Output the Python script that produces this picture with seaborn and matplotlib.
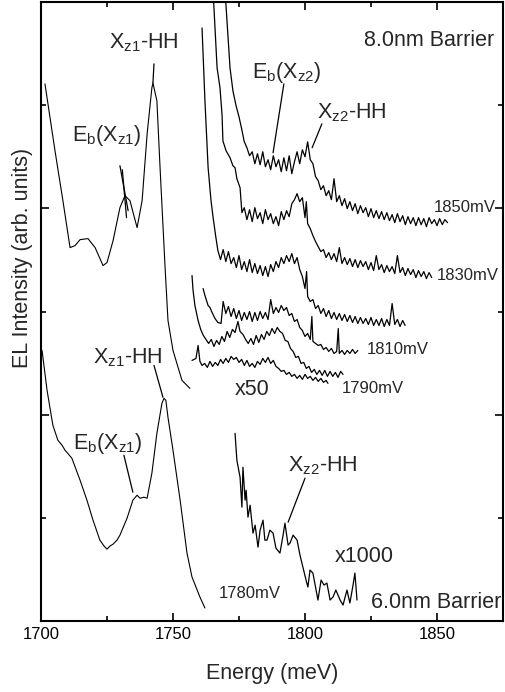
import matplotlib
matplotlib.use("Agg")
import matplotlib.pyplot as plt
import seaborn as sns
import pandas as pd
from matplotlib.ticker import MultipleLocator

# ---------------- data (Energy in meV, EL intensity in arb. units) ----------------
# 8.0 nm barrier, main spectrum
e_8_main = [1701.5, 1705.3, 1708.3, 1711.0, 1712.9, 1714.8, 1717.8, 1720.5, 1723.5, 1725.0,
            1727.3, 1729.9, 1731.8, 1733.7, 1736.4, 1738.3, 1740.2, 1742.0, 1742.4, 1743.9,
            1745.1, 1747.0, 1748.1, 1750.0, 1753.4, 1756.4]
i_8_main = [538, 471, 421, 374, 376, 382, 383, 374, 356, 359,
            381, 414, 426, 421, 394, 421, 488, 534, 539, 521,
            454, 354, 301, 271, 241, 233]

# 8.0 nm barrier, x50 spectra
e_1850 = [1769.5, 1771.6, 1772.7, 1773.9, 1775.0, 1776, 1777, 1778, 1779, 1780,
          1781, 1782, 1783, 1784, 1785, 1786, 1787, 1788, 1789, 1790,
          1791, 1792, 1793, 1794, 1795, 1796, 1797, 1798, 1799, 1800,
          1801, 1802, 1803, 1804, 1805, 1806, 1807, 1808, 1809, 1810,
          1811, 1812, 1813, 1814, 1815, 1816, 1817, 1818, 1819, 1820,
          1821, 1822, 1823, 1824, 1825, 1826, 1827, 1828, 1829, 1830,
          1831, 1832, 1833, 1834, 1835, 1836, 1837, 1838, 1839, 1840,
          1841, 1842, 1843, 1844, 1845, 1846, 1847, 1848, 1849, 1850,
          1851, 1852, 1853, 1854]
i_1850 = [640, 554, 531, 516, 505, 493, 480, 474, 466, 470,
          458, 468, 457, 470, 455, 462, 452, 466, 455, 462,
          450, 464, 451, 466, 448, 460, 470, 458, 472, 465,
          480, 462, 458, 445, 441, 432, 436, 426, 431, 422,
          443, 420, 426, 416, 423, 413, 420, 411, 418, 408,
          416, 409, 414, 405, 413, 404, 411, 403, 410, 402,
          409, 401, 407, 399, 408, 400, 406, 397, 405, 398,
          404, 396, 404, 397, 403, 395, 404, 398, 402, 396,
          403, 397, 402, 399]

e_1830 = [1765.0, 1766.7, 1767.8, 1768.6, 1768.9, 1770.1, 1771.6, 1772.7, 1773.5, 1774.2,
          1775.4, 1776.1, 1777, 1778, 1779, 1780, 1781, 1782, 1783, 1784,
          1785, 1786, 1787, 1788, 1789, 1790, 1791, 1792, 1793, 1794,
          1795, 1796, 1797, 1798, 1799, 1800, 1800.5, 1801, 1802, 1803,
          1804, 1805, 1806, 1807, 1808, 1809, 1810, 1811, 1812, 1813,
          1814, 1815, 1816, 1817, 1818, 1819, 1820, 1821, 1822, 1823,
          1824, 1825, 1826, 1827, 1828, 1829, 1830, 1831, 1832, 1833,
          1834, 1835, 1836, 1837, 1838, 1839, 1840, 1841, 1842, 1843,
          1844, 1845, 1846, 1847, 1848]
i_1830 = [640, 554, 534, 506, 481, 471, 464, 456, 454, 443,
          434, 409, 414, 402, 412, 400, 414, 403, 409, 398,
          412, 402, 408, 398, 405, 396, 410, 402, 411, 405,
          418, 422, 428, 420, 424, 404, 420, 398, 393, 386,
          380, 375, 370, 372, 364, 369, 362, 368, 360, 374,
          358, 364, 357, 363, 355, 362, 354, 361, 355, 360,
          352, 359, 351, 366, 352, 357, 349, 356, 350, 355,
          348, 366, 349, 354, 346, 353, 347, 352, 344, 351,
          345, 350, 343, 349, 344]

e_1820 = [1761.0, 1762.1, 1763.3, 1764.4, 1765.2, 1766.2, 1767.0, 1768.0, 1769, 1770,
          1771, 1772, 1773, 1774, 1775, 1776, 1777, 1778, 1779, 1780,
          1781, 1782, 1783, 1784, 1785, 1786, 1787, 1788, 1789, 1790,
          1791, 1792, 1793, 1794, 1795, 1796, 1797, 1798, 1799, 1800,
          1800.6, 1801, 1802, 1803, 1804, 1805, 1806, 1807, 1808, 1809,
          1810, 1811, 1812, 1813, 1814, 1815, 1816, 1817, 1818, 1819,
          1820, 1821, 1822, 1823, 1824, 1825, 1826, 1827, 1828, 1829,
          1830, 1831, 1832, 1833, 1834, 1835, 1836, 1837, 1837.9]
i_1820 = [594, 521, 454, 421, 404, 385, 371, 362, 372, 360,
          370, 358, 364, 354, 366, 352, 360, 350, 362, 349,
          358, 348, 356, 346, 355, 345, 357, 350, 360, 354,
          364, 358, 366, 360, 368, 358, 364, 352, 345, 333,
          350, 325, 320, 322, 313, 316, 308, 313, 305, 311,
          303, 309, 302, 308, 301, 307, 300, 306, 299, 305,
          298, 304, 298, 303, 297, 304, 296, 302, 296, 303,
          295, 302, 296, 318, 297, 302, 295, 301, 296]

e_1810 = [1761.4, 1762.1, 1763.3, 1764.0, 1764.8, 1765.9, 1767.0, 1768.2, 1769, 1770,
          1771, 1772, 1773, 1774, 1775, 1776, 1777, 1778, 1779, 1780,
          1781, 1782, 1783, 1784, 1785, 1786, 1787, 1788, 1789, 1790,
          1791, 1792, 1793, 1794, 1795, 1796, 1797, 1798, 1799, 1800,
          1801, 1802, 1802.6, 1803, 1804, 1805, 1806, 1807, 1808, 1809,
          1810, 1811, 1812, 1812.6, 1813, 1814, 1815, 1816, 1817, 1818,
          1819, 1820]
i_1810 = [333, 326, 316, 314, 309, 303, 299, 298, 320, 308,
          315, 305, 313, 303, 311, 301, 309, 302, 310, 300,
          309, 301, 310, 303, 309, 302, 322, 308, 314, 309,
          316, 311, 314, 306, 308, 300, 302, 294, 291, 285,
          288, 282, 305, 280, 278, 276, 277, 272, 274, 270,
          273, 268, 270, 293, 268, 271, 267, 271, 268, 272,
          268, 271]

e_1800 = [1757.2, 1757.6, 1758.3, 1759.5, 1760.5, 1761.5, 1762.5, 1763.5, 1764.5, 1765.5,
          1766.5, 1767.5, 1768.5, 1769.5, 1770.5, 1771.5, 1772.5, 1773.5, 1774.6, 1775.4,
          1776.5, 1777.5, 1778.5, 1779.5, 1780.5, 1781.5, 1782.5, 1783.5, 1784.5, 1785.5,
          1786.5, 1787.5, 1788.5, 1789.5, 1790.5, 1791.5, 1792.5, 1793.5, 1794.5, 1795.5,
          1796.5, 1797.5, 1798.5, 1799.5, 1800.5, 1801.5, 1802.5, 1803.5, 1804.5, 1805.5,
          1806.5, 1807.5, 1808.5, 1809.5, 1810.5, 1811.5, 1812.5, 1813.5, 1814.4]
i_1800 = [346, 331, 316, 301, 292, 286, 282, 278, 282, 275,
          281, 277, 285, 280, 290, 284, 292, 289, 300, 290,
          287, 282, 278, 283, 277, 286, 279, 287, 282, 290,
          286, 293, 288, 294, 290, 288, 281, 280, 273, 270,
          264, 265, 258, 259, 253, 255, 249, 252, 247, 251,
          246, 251, 245, 250, 245, 249, 244, 250, 247]

e_1790 = [1757.2, 1758.7, 1759.5, 1760.2, 1761.0, 1762, 1763, 1764, 1765, 1766,
          1767, 1768, 1769, 1770, 1771, 1772, 1773, 1774, 1775, 1776,
          1777, 1778, 1779, 1780, 1781, 1782, 1783, 1784, 1785, 1786,
          1787, 1788, 1789, 1790, 1791, 1792, 1793, 1794, 1795, 1796,
          1797, 1798, 1799, 1800, 1801, 1802, 1803, 1804, 1805, 1806,
          1807, 1808, 1808.7]
i_1790 = [261, 263, 276, 260, 256, 258, 254, 260, 255, 259,
          256, 262, 258, 263, 259, 265, 262, 264, 259, 262,
          256, 261, 255, 258, 254, 260, 257, 263, 259, 264,
          258, 261, 255, 253, 250, 251, 247, 249, 245, 247,
          243, 246, 242, 247, 243, 245, 241, 244, 240, 243,
          239, 241, 238]

# 6.0 nm barrier, main spectrum
e_6_main = [1700.4, 1702.3, 1704.5, 1706.4, 1708.0, 1709.1, 1709.8, 1711.7, 1714.8, 1717.4,
            1719.7, 1722.3, 1723.9, 1725.0, 1726.1, 1727.3, 1728.8, 1729.9, 1732.6, 1734.8,
            1736.4, 1737.5, 1739.0, 1740.2, 1742.0, 1743.9, 1745.8, 1746.6, 1747.3, 1748.1,
            1750.0, 1752.7, 1755.3, 1757.2, 1760.2, 1762.1]
i_6_main = [271, 231, 196, 181, 176, 171, 169, 163, 141, 121,
            101, 81, 75, 72, 75, 77, 81, 86, 103, 121,
            126, 123, 124, 123, 148, 188, 218, 223, 221, 204,
            171, 121, 68, 44, 24, 13]

# 6.0 nm barrier, x1000 spectrum
e_1780 = [1773.5, 1774.2, 1775.4, 1776.1, 1776.5, 1777.3, 1777.7, 1778.4, 1779.2, 1780.3,
          1781.1, 1782.2, 1783.0, 1784.1, 1784.8, 1785.6, 1786.7, 1787.9, 1789.0, 1790.5,
          1791.7, 1792.4, 1793.6, 1794.3, 1795.5, 1797.0, 1798.1, 1799.2, 1800.4, 1801.1,
          1801.9, 1803.0, 1804.2, 1804.9, 1806.1, 1807.2, 1808.3, 1809.5, 1810.6, 1811.7,
          1813.3, 1814.4, 1815.9, 1817.0, 1818.2, 1818.9, 1819.7]
i_1780 = [188, 161, 144, 114, 154, 121, 131, 104, 116, 88,
          96, 74, 91, 101, 81, 81, 91, 88, 73, 68,
          86, 98, 76, 78, 86, 81, 66, 54, 41, 34,
          51, 48, 31, 21, 41, 36, 38, 21, 24, 31,
          21, 16, 31, 18, 36, 48, 21]

voltage_labels = ["1850mV", "1830mV", "1810mV", "1790mV", "1780mV"]
voltage_label_e = [1860.6, 1861.7, 1835.2, 1825.8, 1779.2]
voltage_label_i = [414, 346, 272, 233, 28]

# ---------------- plotting ----------------
sns.set_theme(style="ticks")
plt.rcParams["font.family"] = ["Liberation Sans", "DejaVu Sans"]
plt.rcParams["mathtext.default"] = "regular"

fig = plt.figure(figsize=(5.05, 6.92), dpi=100)
ax = fig.add_axes([41 / 505, 71 / 692, 462 / 505, 619 / 692])

curves = [
    (e_8_main, i_8_main, 0.8),
    (e_1850, i_1850, 0.9),
    (e_1830, i_1830, 0.9),
    (e_1820, i_1820, 0.9),
    (e_1810, i_1810, 0.9),
    (e_1800, i_1800, 0.9),
    (e_1790, i_1790, 0.9),
    (e_6_main, i_6_main, 0.8),
    (e_1780, i_1780, 0.9),
]
for e, i, lw in curves:
    df = pd.DataFrame({"E": e, "I": i})
    sns.lineplot(data=df, x="E", y="I", ax=ax, color="black", lw=lw,
                 sort=False, estimator=None)

ax.set_xlim(1700, 1875)
ax.set_ylim(0, 620)
ax.xaxis.set_major_locator(MultipleLocator(50))
ax.xaxis.set_minor_locator(MultipleLocator(25))
ax.set_yticks([0, 620 / 3, 1240 / 3, 620])
ax.set_yticks([620 / 6, 310, 3100 / 6], minor=True)
ax.set_yticklabels([])
ax.tick_params(which="both", direction="in", top=True, right=True, width=1.2,
               colors="black", labelsize=12, pad=4)
ax.tick_params(which="major", length=6)
ax.tick_params(which="minor", length=3.5)
for s in ax.spines.values():
    s.set_linewidth(1.5)
    s.set_color("black")

ax.set_xlabel("Energy (meV)", fontsize=15.5)
ax.xaxis.set_label_coords(0.5, -0.068)
ax.set_ylabel("EL Intensity (arb. units)", fontsize=15.5)
ax.yaxis.set_label_coords(-0.017, 0.586)

big = 15.5
# 8.0 nm annotations
ax.text(1739.0, 579, r"X$_{z1}$-HH", fontsize=big, ha="center", va="center")
ax.plot([1742.8, 1742.4], [558, 539], color="black", lw=0.9)
ax.text(1725.0, 486, r"E$_{b}$(X$_{z1}$)", fontsize=big, ha="center", va="center")
ax.plot([1729.9, 1733.0], [456, 411], color="black", lw=0.9)
ax.plot([1730.8, 1732.4], [452, 404], color="black", lw=0.9)
ax.text(1793.2, 549, r"E$_{b}$(X$_{z2}$)", fontsize=big, ha="center", va="center")
ax.plot([1792.0, 1787.9], [538, 469], color="black", lw=0.9)
ax.text(1817.8, 509, r"X$_{z2}$-HH", fontsize=big, ha="center", va="center")
ax.plot([1806.4, 1802.7], [498, 474], color="black", lw=0.9)
ax.text(1847.0, 581, "8.0nm Barrier", fontsize=big, ha="center", va="center")
ax.text(1779.9, 232, "x50", fontsize=big, ha="center", va="center")

# 6.0 nm annotations
ax.text(1733.0, 264, r"X$_{z1}$-HH", fontsize=big, ha="center", va="center")
ax.plot([1742.8, 1746.2], [256, 224], color="black", lw=0.9)
ax.text(1725.4, 178, r"E$_{b}$(X$_{z1}$)", fontsize=big, ha="center", va="center")
ax.plot([1731.4, 1734.8], [166, 129], color="black", lw=0.9)
ax.text(1806.8, 156, r"X$_{z2}$-HH", fontsize=big, ha="center", va="center")
ax.plot([1800.0, 1793.6], [143, 99], color="black", lw=0.9)
ax.text(1822.3, 65, "x1000", fontsize=big, ha="center", va="center")
ax.text(1849.6, 19, "6.0nm Barrier", fontsize=big, ha="center", va="center")

for lab, xe, yi in zip(voltage_labels, voltage_label_e, voltage_label_i):
    ax.text(xe, yi, lab, fontsize=12, ha="center", va="center")

fig.savefig("out.png", dpi=100)
